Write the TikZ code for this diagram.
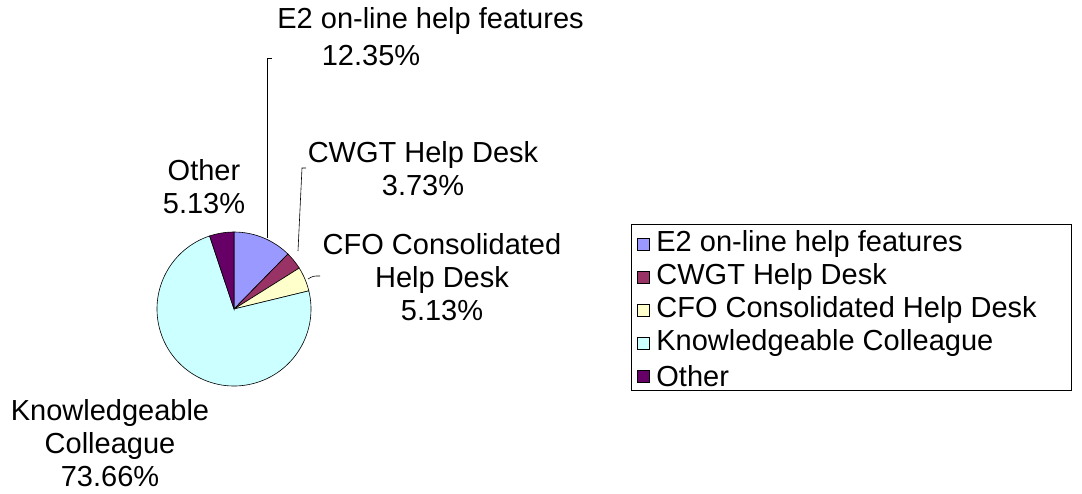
\documentclass[tikz,border=0pt]{standalone}
\usepackage{fontspec}
\setmainfont{Liberation Sans}
\usepackage{tikz}

\definecolor{e2blue}{HTML}{9999FF}
\definecolor{cwgtred}{HTML}{993366}
\definecolor{cfoyellow}{HTML}{FFFFCC}
\definecolor{colcyan}{HTML}{CCFFFF}
\definecolor{othpurple}{HTML}{660066}

\begin{document}
\begin{tikzpicture}[x=1pt, y=-1pt, line width=0.8pt]
	\tikzstyle{slice} = [draw=black, line width=0.6pt]
	\tikzstyle{label} = [align=center, inner sep=0pt,
	font=\fontsize{29}{33}\selectfont]
	\tikzstyle{leader} = [draw=black, line width=0.6pt]
	\tikzstyle{key} = [draw=black, line width=0.6pt, minimum size=12pt,
	inner sep=0pt]
	\tikzstyle{entry} = [anchor=west, inner sep=0pt,
	font=\fontsize{29}{33}\selectfont]

	\useasboundingbox (0,0) rectangle (1082,493);

	% pie
	\begin{scope}[shift={(234,309)}, y=1pt]
		\filldraw[slice, fill=e2blue] (0,0) -- (90:77)
			arc[start angle=90, end angle=45.54, radius=77] -- cycle;
		\filldraw[slice, fill=cwgtred] (0,0) -- (45.54:77)
			arc[start angle=45.54, end angle=32.11, radius=77] -- cycle;
		\filldraw[slice, fill=cfoyellow] (0,0) -- (32.11:77)
			arc[start angle=32.11, end angle=13.64, radius=77] -- cycle;
		\filldraw[slice, fill=colcyan] (0,0) -- (13.64:77)
			arc[start angle=13.64, end angle=-251.53, radius=77] -- cycle;
		\filldraw[slice, fill=othpurple] (0,0) -- (-251.53:77)
			arc[start angle=-251.53, end angle=-270, radius=77] -- cycle;
	\end{scope}

	% slice labels
	\node[label, anchor=west] (lbl_e2) at (277,21) {E2 on-line help features};
	\node[label] (pct_e2) at (371,56) {12.35\%};
	\node[label] (lbl_cwgt) at (423,169) {CWGT Help Desk\\3.73\%};
	\node[label] (lbl_other) at (204,187) {Other\\5.13\%};
	\node[label] (lbl_cfo) at (442,277) {CFO Consolidated\\Help Desk\\5.13\%};
	\node[label] (lbl_col) at (110,443) {Knowledgeable\\Colleague\\73.66\%};

	% leader lines
	\coordinate (e2_tip) at (267,238);
	\coordinate (e2_bend) at (267,58);
	\coordinate (e2_end) at (272,58);
	\coordinate (cwgt_tip) at (298,251);
	\coordinate (cwgt_bend) at (302,168);
	\coordinate (cwgt_end) at (306,168);
	\coordinate (cfo_tip) at (308,279);
	\coordinate (cfo_end) at (320,276);

	\draw[leader] (e2_tip) -- (e2_bend) -- (e2_end);
	\draw[leader] (cwgt_tip) -- (cwgt_bend) -- (cwgt_end);
	\draw[leader] (cfo_tip) .. controls (313,276) .. (cfo_end);

	% legend
	\node[draw=black, minimum width=440pt, minimum height=166pt,
	inner sep=0pt] (legend) at (851,307) {};

	\node[key, fill=e2blue] (key_e2) at (643,244) {};
	\node[key, fill=cwgtred] (key_cwgt) at (643,277) {};
	\node[key, fill=cfoyellow] (key_cfo) at (643,310) {};
	\node[key, fill=colcyan] (key_col) at (643,343) {};
	\node[key, fill=othpurple] (key_other) at (643,376) {};

	\node[entry] (txt_e2) at (656,244) {E2 on-line help features};
	\node[entry] (txt_cwgt) at (656,277) {CWGT Help Desk};
	\node[entry] (txt_cfo) at (656,310) {CFO Consolidated Help Desk};
	\node[entry] (txt_col) at (656,343) {Knowledgeable Colleague};
	\node[entry] (txt_other) at (656,376) {Other};
\end{tikzpicture}
\end{document}
